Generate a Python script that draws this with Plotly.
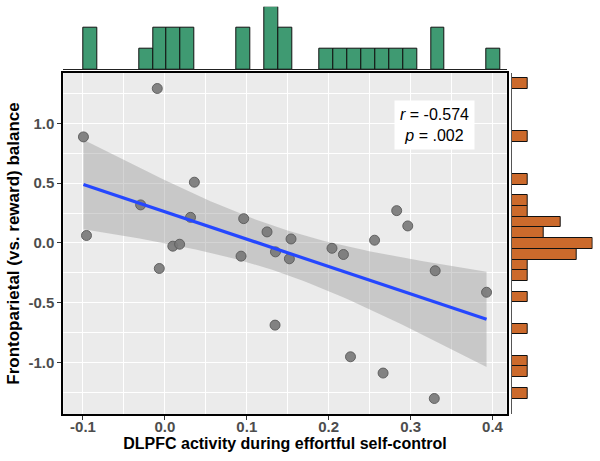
import numpy as np
import plotly.graph_objects as go

# ---- data ----
dlpfc = [-0.0093, -0.0994, 0.036, -0.0296, 0.0313, -0.0957, 0.0962, 0.1247, 0.135,
         0.0097, 0.018, 0.093, -0.0068, 0.283, 0.2965, 0.256, 0.204, 0.218, 0.154,
         0.152, 0.33, 0.3927, 0.1345, 0.2266, 0.2664, 0.3289]
balance = [1.292, 0.887, 0.508, 0.318, 0.214, 0.062, 0.203, 0.092, -0.075,
           -0.0275, -0.011, -0.111, -0.214, 0.27, 0.142, 0.0225, -0.045, -0.097, 0.033,
           -0.133, -0.233, -0.413, -0.688, -0.953, -1.089, -1.302]
x_ticks = [-0.1, 0.0, 0.1, 0.2, 0.3, 0.4]
x_ticklabels = ["-0.1", "0.0", "0.1", "0.2", "0.3", "0.4"]
y_ticks = [-1.0, -0.5, 0.0, 0.5, 1.0]
y_ticklabels = ["-1.0", "-0.5", "0.0", "0.5", "1.0"]
stats_text = "<i>r</i> = -0.574<br><i>p</i> = .002"
x_title = "DLPFC activity during effortful self-control"
y_title = "Frontoparietal (vs. reward) balance"

x = np.array(dlpfc)
y = np.array(balance)
n = len(x)

# linear fit + 95% CI (like geom_smooth(method="lm"))
b1, b0 = np.polyfit(x, y, 1)
xs = np.linspace(x.min(), x.max(), 80)
ys = b0 + b1 * xs
resid = y - (b0 + b1 * x)
s = np.sqrt(np.sum(resid ** 2) / (n - 2))
sxx = np.sum((x - x.mean()) ** 2)
tcrit = 2.0639  # t(0.975, df=24)
se = s * np.sqrt(1.0 / n + (xs - x.mean()) ** 2 / sxx)
lo = ys - tcrit * se
hi = ys + tcrit * se

# axis ranges (ggplot 5% expansion)
xr = x.max() - x.min()
yr = y.max() - y.min()
x_range = [x.min() - 0.05 * xr, x.max() + 0.05 * xr]
y_range = [y.min() - 0.05 * yr, y.max() + 0.05 * yr]

W, H = 600, 461
def fx(px):
    return px / W
def fy(px):
    return 1 - px / H

main_xd = [fx(63.3), fx(506.7)]
main_yd = [fy(414), fy(73)]

fig = go.Figure()

# confidence band
fig.add_trace(go.Scatter(x=np.concatenate([xs, xs[::-1]]), y=np.concatenate([hi, lo[::-1]]),
                         fill="toself", fillcolor="rgba(153,153,153,0.42)", line=dict(width=0),
                         hoverinfo="skip", showlegend=False, xaxis="x", yaxis="y"))
# points
fig.add_trace(go.Scatter(x=x, y=y, mode="markers",
                         marker=dict(size=10, color="rgba(120,120,120,0.92)",
                                     line=dict(color="rgba(90,90,90,0.9)", width=1)),
                         showlegend=False, xaxis="x", yaxis="y"))
# regression line
fig.add_trace(go.Scatter(x=xs, y=ys, mode="lines", line=dict(color="#2547FF", width=3.2),
                         showlegend=False, xaxis="x", yaxis="y"))

# top marginal histogram
bw_x = xr / 29
fig.add_trace(go.Histogram(x=x, xbins=dict(start=x.min() - 1e-4, end=x.max() + bw_x, size=bw_x),
                           marker=dict(color="#3F9A72", line=dict(color="#111111", width=1)),
                           showlegend=False, xaxis="x2", yaxis="y2"))
# right marginal histogram
bw_y = yr / 29
fig.add_trace(go.Histogram(y=y, ybins=dict(start=y.min() - 1e-4, end=y.max() + bw_y, size=bw_y),
                           orientation="h",
                           marker=dict(color="#CC6A2C", line=dict(color="#111111", width=1)),
                           showlegend=False, xaxis="x3", yaxis="y3"))

tickfont = dict(family="Liberation Sans, Arial", size=15, color="#4D4D4D")
xtitlefont = dict(family="Liberation Sans, Arial", size=16, color="#000000")
ytitlefont = dict(family="Liberation Sans, Arial", size=17, color="#000000")

fig.update_layout(
    width=W, height=H,
    margin=dict(l=0, r=0, t=0, b=0, autoexpand=False),
    paper_bgcolor="white",
    plot_bgcolor="white",
    bargap=0,
    xaxis=dict(domain=main_xd, range=x_range, tickvals=x_ticks,
               ticktext=["<b>" + t + "</b>" for t in x_ticklabels],
               showgrid=True, gridcolor="white", gridwidth=1.4,
               minor=dict(showgrid=True, gridcolor="white", gridwidth=0.7, dtick=0.05, tick0=-0.05),
               zeroline=False, showline=True, linecolor="#000000", linewidth=2, mirror=True,
               ticks="outside", ticklen=4, tickcolor="#333333", tickwidth=1.2,
               tickfont=tickfont, automargin=False, ticklabelstandoff=-6,
               title=dict(text="<b>" + x_title + "</b>", font=xtitlefont, standoff=0),
               anchor="y"),
    yaxis=dict(domain=main_yd, range=y_range, tickvals=y_ticks,
               ticktext=["<b>" + t + "</b>" for t in y_ticklabels],
               showgrid=True, gridcolor="white", gridwidth=1.4,
               minor=dict(showgrid=True, gridcolor="white", gridwidth=0.7, dtick=0.25, tick0=-0.25),
               zeroline=False, showline=True, linecolor="#000000", linewidth=2, mirror=True,
               ticks="outside", ticklen=4, tickcolor="#333333", tickwidth=1.2,
               tickfont=tickfont, automargin=False,
               title=dict(text="<b>" + y_title + "</b>", font=ytitlefont, standoff=4),
               anchor="x"),
    xaxis2=dict(domain=main_xd, range=x_range, showgrid=False, zeroline=False,
                showticklabels=False, ticks="", showline=True, linecolor="#222222", linewidth=1,
                automargin=False, anchor="y2"),
    yaxis2=dict(domain=[fy(69.3), fy(6.7)], range=[0, 3], showgrid=False, zeroline=False,
                showticklabels=False, ticks="", showline=False, automargin=False, anchor="x2"),
    xaxis3=dict(domain=[fx(511.7), fx(592.7)], range=[0, 5], showgrid=False, zeroline=False,
                showticklabels=False, ticks="", showline=False, automargin=False, anchor="y3"),
    yaxis3=dict(domain=main_yd, range=y_range, showgrid=False, zeroline=False,
                showticklabels=False, ticks="", showline=True, linecolor="#555555", linewidth=1,
                automargin=False, anchor="x3"),
    annotations=[dict(x=0.329, y=0.985, xref="x", yref="y", text=stats_text, showarrow=False,
                      font=dict(family="Liberation Sans, Arial", size=16, color="#000000"),
                      bgcolor="white", borderpad=5, align="center")],
)
# panel background
fig.add_shape(type="rect", xref="x domain", yref="y domain", x0=0, x1=1, y0=0, y1=1,
              fillcolor="#EBEBEB", line=dict(width=0), layer="below")

fig.write_html("out.html", config={"displayModeBar": False},
               post_script="document.body.style.margin='0px';document.body.style.overflow='hidden';")
